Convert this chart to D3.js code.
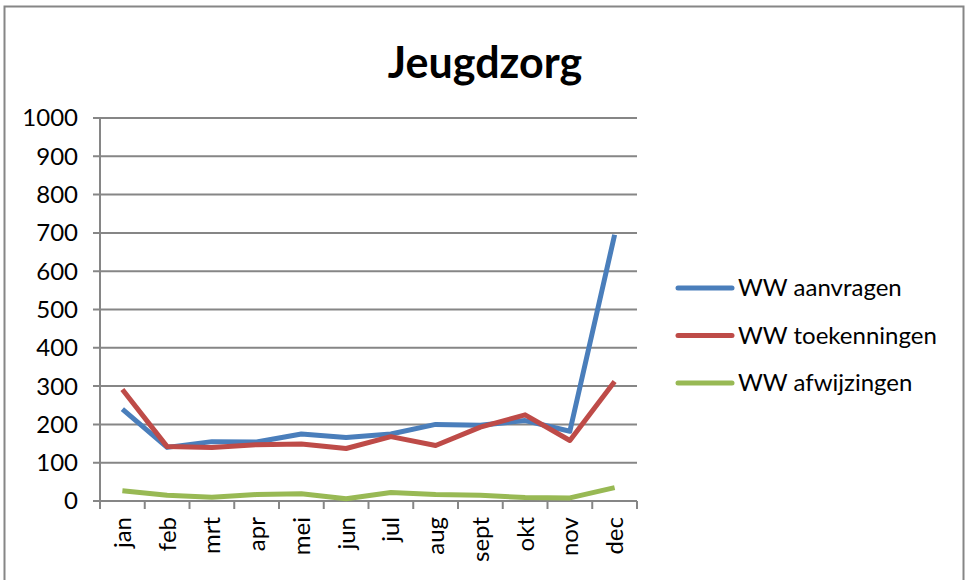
<!DOCTYPE html>
<html lang="nl">
<head>
<meta charset="utf-8">
<title>Jeugdzorg</title>
<script src="https://cdn.jsdelivr.net/npm/d3@7"></script>
<style>
body { margin: 0; background: #fff; }
svg text { font-family: Lato, "Open Sans", sans-serif; fill: #000; }
</style>
</head>
<body>
<svg id="chart" width="966" height="580"></svg>
<script>
var months = ["jan","feb","mrt","apr","mei","jun","jul","aug","sept","okt","nov","dec"];
var aanvragen = [240,140,155,154,175,166,175,200,198,210,182,695];
var toekenningen = [291,142,140,147,149,137,168,145,193,225,158,312];
var afwijzingen = [27,15,10,17,19,6,22,17,15,9,8,35];
var seriesNames = ["WW aanvragen","WW toekenningen","WW afwijzingen"];
var colors = ["#4a7ebb","#be4b48","#98b954"];
var yTicks = [0,100,200,300,400,500,600,700,800,900,1000];

var series = [aanvragen, toekenningen, afwijzingen];

var svg = d3.select("#chart");

// outer frame
svg.append("rect")
  .attr("x", 4.5).attr("y", 6.5)
  .attr("width", 959).attr("height", 600)
  .attr("fill", "none").attr("stroke", "#868686").attr("stroke-width", 2);

var plotL = 100, plotR = 637, plotT = 118, plotB = 501;

var x = d3.scaleBand().domain(months).range([plotL, plotR]);
var y = d3.scaleLinear().domain([0, 1000]).range([plotB, plotT]);

// grid
svg.append("g").selectAll("line").data(yTicks).enter().append("line")
  .attr("x1", plotL - 7).attr("x2", plotR)
  .attr("y1", function(d){ return y(d); }).attr("y2", function(d){ return y(d); })
  .attr("stroke", "#868686").attr("stroke-width", 2);

// y labels
svg.append("g").selectAll("text").data(yTicks).enter().append("text")
  .attr("x", 78).attr("y", function(d){ return y(d); })
  .attr("dy", "0.35em").attr("text-anchor", "end")
  .style("font-size", "24px")
  .text(function(d){ return d; });

// y axis line
svg.append("line").attr("x1", plotL).attr("x2", plotL)
  .attr("y1", plotT).attr("y2", plotB)
  .attr("stroke", "#868686").attr("stroke-width", 2);

// x ticks
var edges = months.map(function(m){ return x(m); }).concat([plotR]);
svg.append("g").selectAll("line").data(edges).enter().append("line")
  .attr("x1", function(d){ return d; }).attr("x2", function(d){ return d; })
  .attr("y1", plotB).attr("y2", plotB + 8)
  .attr("stroke", "#868686").attr("stroke-width", 2);

// x labels rotated
svg.append("g").selectAll("text").data(months).enter().append("text")
  .attr("transform", function(d){
    return "translate(" + (x(d) + x.bandwidth()/2) + "," + (plotB + 16) + ") rotate(-90)";
  })
  .attr("text-anchor", "end").attr("dy", "0.35em")
  .style("font-size", "24px")
  .text(function(d){ return d; });

// lines
var line = d3.line()
  .x(function(d, i){ return x(months[i]) + x.bandwidth()/2; })
  .y(function(d){ return y(d); });

svg.append("g").selectAll("path").data(series).enter().append("path")
  .attr("d", line)
  .attr("fill", "none")
  .attr("stroke", function(d, i){ return colors[i]; })
  .attr("stroke-width", 5)
  .attr("stroke-linejoin", "round");

// title
svg.append("text")
  .attr("x", 485).attr("y", 78)
  .attr("text-anchor", "middle")
  .style("font-size", "43px").style("font-weight", "bold")
  .text("Jeugdzorg");

// legend
var lg = svg.append("g").selectAll("g").data(seriesNames).enter().append("g")
  .attr("transform", function(d, i){ return "translate(678," + (288 + i * 47.5) + ")"; });
lg.append("line").attr("x1", 0).attr("x2", 54)
  .attr("stroke", function(d, i){ return colors[i]; })
  .attr("stroke-width", 5).attr("stroke-linecap", "round");
lg.append("text").attr("x", 60).attr("dy", "0.35em")
  .style("font-size", "24px")
  .text(function(d){ return d; });
</script>
</body>
</html>
